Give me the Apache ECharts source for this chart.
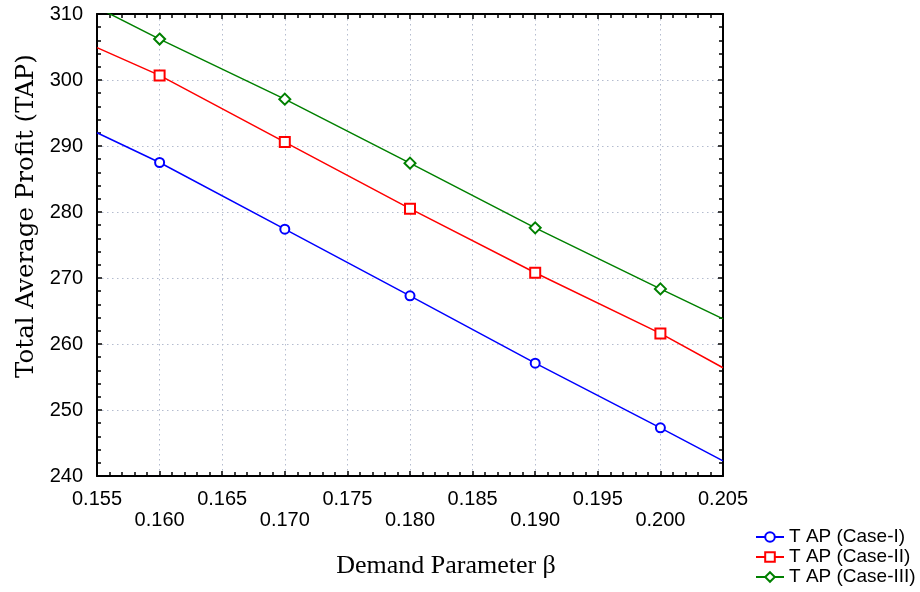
<!DOCTYPE html>
<html>
<head>
<meta charset="utf-8">
<title>TAP vs Demand Parameter</title>
<script src="https://cdn.jsdelivr.net/npm/echarts@6/dist/echarts.min.js"></script>
<style>
  html, body { margin: 0; padding: 0; background: #fff; }
  #chart { width: 920px; height: 592px; }
</style>
</head>
<body>
<div id="chart"></div>
<script>
// beta values: fitted line runs 0.155..0.205, markers sit on 0.16..0.20
const beta = [0.155, 0.16, 0.17, 0.18, 0.19, 0.20, 0.205];
const tapCase1 = [292.0, 287.5, 277.4, 267.3, 257.1, 247.3, 242.3];
const tapCase2 = [304.9, 300.7, 290.6, 280.5, 270.8, 261.6, 256.4];
const tapCase3 = [311.0, 306.2, 297.1, 287.4, 277.6, 268.35, 263.8];
const seriesNames = ['T AP (Case-I)', 'T AP (Case-II)', 'T AP (Case-III)'];

const sansFont = '"Liberation Sans", Arial, sans-serif';

// endpoints of the fit line carry no marker
function toPoints(values) {
  return values.map((v, i) => {
    const p = { value: [beta[i], v] };
    if (i === 0 || i === values.length - 1) p.symbol = 'none';
    return p;
  });
}

function makeSeries(name, values, color, symbol, size) {
  return {
    name: name,
    type: 'line',
    data: toPoints(values),
    symbol: symbol,
    symbolSize: size,
    showAllSymbol: true,
    clip: true,
    lineStyle: { color: color, width: 1.5 },
    itemStyle: { color: color, borderWidth: 1.5 },
    emphasis: { disabled: true }
  };
}

const frameAxisLine = { show: true, onZero: false, lineStyle: { color: '#000', width: 2 } };
const tickIn = { show: true, inside: true, length: 5, lineStyle: { color: '#000', width: 1.5 } };
const minorIn = { show: true, splitNumber: 5, length: 4, lineStyle: { color: '#000', width: 1.5 } };
const gridDots = { show: true, lineStyle: { color: '#b4bccf', width: 1, type: [1.5, 3.5] } };

const option = {
  animation: false,
  grid: { left: 97, top: 14, right: 197, bottom: 116 },
  legend: {
    orient: 'vertical',
    left: 755,
    top: 527,
    height: 70,
    padding: 0,
    itemGap: 0,
    itemWidth: 28,
    itemHeight: 12,
    textStyle: { fontFamily: sansFont, fontSize: 19, color: '#000', lineHeight: 20 },
    data: seriesNames
  },
  xAxis: [
    {
      type: 'value',
      min: 0.155,
      max: 0.205,
      interval: 0.005,
      name: 'Demand Parameter β',
      nameLocation: 'middle',
      nameGap: 77,
      nameTextStyle: { fontFamily: '"Liberation Serif", serif', fontSize: 26, color: '#000', padding: [0, 0, 0, 72] },
      axisLine: frameAxisLine,
      axisTick: tickIn,
      minorTick: minorIn,
      splitLine: gridDots,
      axisLabel: {
        margin: 13,
        fontFamily: sansFont,
        fontSize: 20,
        lineHeight: 21,
        color: '#000',
        formatter: function (v) {
          const s = v.toFixed(3);
          return Math.round(v * 1000) % 10 === 0 ? '\n' + s : s;
        }
      }
    },
    {
      type: 'value',
      position: 'top',
      min: 0.155,
      max: 0.205,
      interval: 0.005,
      axisLine: frameAxisLine,
      axisTick: tickIn,
      minorTick: minorIn,
      axisLabel: { show: false },
      splitLine: { show: false }
    }
  ],
  yAxis: [
    {
      type: 'value',
      min: 240,
      max: 310,
      interval: 10,
      name: 'Total Average Profit (TAP)',
      nameLocation: 'middle',
      nameGap: 58,
      nameTextStyle: { fontFamily: '"DejaVu Serif", serif', fontSize: 24.5, color: '#000', padding: [0, 0, 0, 58] },
      axisLine: frameAxisLine,
      axisTick: tickIn,
      minorTick: minorIn,
      splitLine: gridDots,
      axisLabel: { margin: 14, fontFamily: sansFont, fontSize: 20, color: '#000' }
    },
    {
      type: 'value',
      position: 'right',
      min: 240,
      max: 310,
      interval: 10,
      axisLine: frameAxisLine,
      axisTick: tickIn,
      minorTick: minorIn,
      axisLabel: { show: false },
      splitLine: { show: false }
    }
  ],
  series: [
    makeSeries(seriesNames[0], tapCase1, '#0000ff', 'emptyCircle', 9),
    makeSeries(seriesNames[1], tapCase2, '#ff0000', 'emptyRect', 10),
    makeSeries(seriesNames[2], tapCase3, '#008000', 'emptyDiamond', 11)
  ]
};

const chartDom = document.getElementById('chart');
const myChart = echarts.init(chartDom);
myChart.setOption(option);
</script>
</body>
</html>
